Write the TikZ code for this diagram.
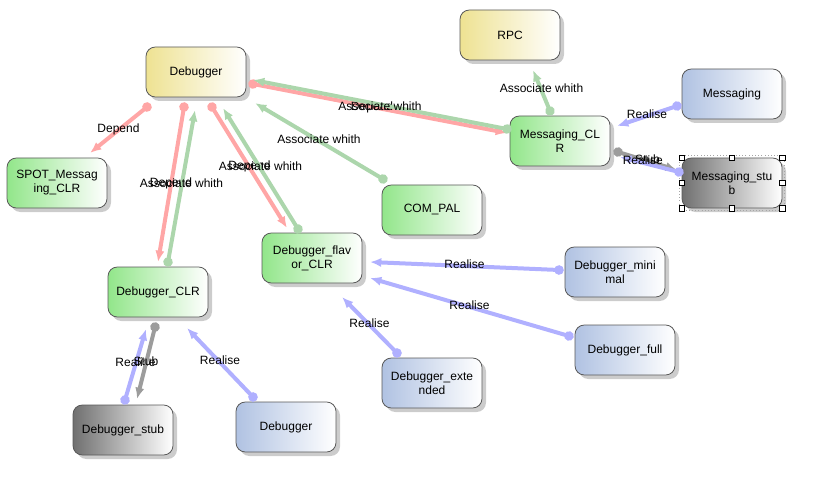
\documentclass[tikz,border=0pt]{standalone}
\usepackage{fontspec}
\setmainfont{Liberation Sans}
\usepackage{tikz}
\usetikzlibrary{arrows.meta,shadows}
\definecolor{coreyellow}{RGB}{238,226,146}
\definecolor{clrgreen}{RGB}{146,230,138}
\definecolor{ifaceblue}{RGB}{176,194,226}
\definecolor{stubgray}{RGB}{112,112,112}
\definecolor{depred}{RGB}{255,166,166}
\definecolor{assgreen}{RGB}{172,214,172}
\definecolor{realblue}{RGB}{176,176,255}
\definecolor{stubline}{RGB}{156,156,156}
\tikzset{
    umlbox/.style={
        draw=black!65,
        line width=0.6pt,
        rounded corners=7pt,
        minimum width=75pt,
        minimum height=37.5pt,
        inner sep=2pt,
        align=center,
        font=\fontsize{9}{10.5}\selectfont,
        right color=white,
        drop shadow={shadow xshift=3pt, shadow yshift=-3pt, fill=black!20, opacity=1}
    },
    corebox/.style={umlbox, left color=coreyellow},
    clrbox/.style={umlbox, left color=clrgreen},
    ifacebox/.style={umlbox, left color=ifaceblue},
    stubbox/.style={umlbox, left color=stubgray},
    link/.style={
        line width=3pt,
        shorten <=-3.5pt,
        {Circle[length=7pt]}-{Latex[length=8.5pt,width=7pt]}
    },
    deplink/.style={link, draw=depred, fill=depred},
    asslink/.style={link, draw=assgreen, fill=assgreen},
    reallink/.style={link, draw=realblue, fill=realblue},
    stublink/.style={link, draw=stubline, fill=stubline},
    lbl/.style={
        midway,
        yshift=0.5pt,
        inner sep=0pt,
        text height=6.5pt,
        text depth=2pt,
        text=black,
        font=\fontsize{9}{10.5}\selectfont
    },
    handle/.style={
        draw=black,
        fill=white,
        line width=0.5pt,
        minimum size=4pt,
        inner sep=0pt
    }
}

\begin{document}
\begin{tikzpicture}[x=0.75pt, y=-0.75pt]
    \useasboundingbox (0,0) rectangle (817,499);

    \node[corebox] (dbg) at (196,72) {Debugger};
    \node[corebox] (rpc) at (510,35) {RPC};
    \node[ifacebox] (msg) at (732,94) {Messaging};
    \node[clrbox] (msgclr) at (560,141) {Messaging\_CL\\R};
    \node[stubbox] (msgstub) at (732,183) {Messaging\_stu\\b};
    \node[clrbox] (spot) at (57,183) {SPOT\_Messag\\ing\_CLR};
    \node[clrbox] (compal) at (432,210) {COM\_PAL};
    \node[clrbox] (flavor) at (312,258) {Debugger\_flav\\or\_CLR};
    \node[ifacebox] (dbgmin) at (615,272) {Debugger\_mini\\mal};
    \node[clrbox] (dbgclr) at (158,292) {Debugger\_CLR};
    \node[ifacebox] (dbgfull) at (625,350) {Debugger\_full};
    \node[ifacebox] (dbgext) at (432,383) {Debugger\_exte\\nded};
    \node[stubbox] (dbgstub) at (123,430) {Debugger\_stub};
    \node[ifacebox] (dbgimpl) at (286,427) {Debugger};

    \draw[dotted, black!35] ([shift={(-2,-2)}]msgstub.north west) rectangle ([shift={(2,2)}]msgstub.south east);
    \foreach \a/\n in {north west/nw, north/n, north east/ne, east/e, south east/se, south/s, south west/sw, west/w}
        \node[handle] (h\n) at (msgstub.\a) {};

    \draw[deplink] ([shift={(-49,35)}]dbg.center) -- node[lbl]{Depend} ([shift={(33,-30)}]spot.center);
    \draw[deplink] ([shift={(-12,35)}]dbg.center) -- node[lbl]{Depend} ([shift={(0,-30)}]dbgclr.center);
    \draw[asslink] ([shift={(10,-30)}]dbgclr.center) -- node[lbl, yshift=1pt]{Associate whith} ([shift={(-1,38)}]dbg.center);
    \draw[deplink] ([shift={(16,35)}]dbg.center) -- node[lbl]{Depend} ([shift={(-25,-30)}]flavor.center);
    \draw[asslink] ([shift={(-14,-29)}]flavor.center) -- node[lbl]{Associate whith} ([shift={(27,36)}]dbg.center);
    \draw[asslink] ([shift={(-49,-31)}]compal.center) -- node[lbl]{Associate whith} ([shift={(59,31)}]dbg.center);
    \draw[deplink] ([shift={(57,12)}]dbg.center) -- node[lbl, xshift=-6pt]{Depend} ([shift={(-53,-8)}]msgclr.center);
    \draw[asslink] ([shift={(-53,-12)}]msgclr.center) -- node[lbl, yshift=-3pt]{Associate whith} ([shift={(57,8)}]dbg.center);
    \draw[asslink] ([shift={(-10,-30)}]msgclr.center) -- node[lbl]{Associate whith} ([shift={(23,35)}]rpc.center);
    \draw[reallink] ([shift={(-55,12)}]msg.center) -- node[lbl]{Realise} ([shift={(57,-15)}]msgclr.center);
    \draw[stublink] ([shift={(58,11)}]msgclr.center) -- node[lbl]{Stub} ([shift={(-55,-13)}]msgstub.center);
    \draw[reallink] ([shift={(-53,-11)}]msgstub.center) -- node[lbl, xshift=-5pt, yshift=2pt]{Realise} ([shift={(60,16)}]msgclr.center);
    \draw[reallink] ([shift={(-56,-2)}]dbgmin.center) -- node[lbl]{Realise} ([shift={(58,4)}]flavor.center);
    \draw[reallink] ([shift={(-56,-14)}]dbgfull.center) -- node[lbl]{Realise} ([shift={(58,20)}]flavor.center);
    \draw[reallink] ([shift={(-35,-30)}]dbgext.center) -- node[lbl]{Realise} ([shift={(30,39)}]flavor.center);
    \draw[reallink] ([shift={(2,-30)}]dbgstub.center) -- node[lbl]{Realise} ([shift={(-12,37)}]dbgclr.center);
    \draw[stublink] ([shift={(-3,35)}]dbgclr.center) -- node[lbl]{Stub} ([shift={(14,-31)}]dbgstub.center);
    \draw[reallink] ([shift={(-33,-30)}]dbgimpl.center) -- node[lbl]{Realise} ([shift={(29,36)}]dbgclr.center);
\end{tikzpicture}
\end{document}
